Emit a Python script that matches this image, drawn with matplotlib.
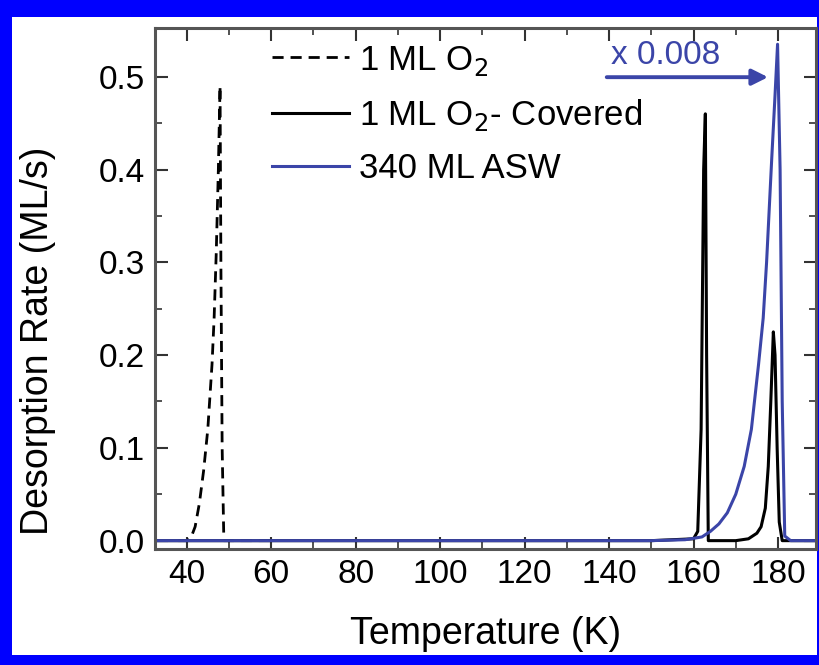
import matplotlib.pyplot as plt
from matplotlib.patches import Rectangle

# 1 ML O2 (dashed)
t_o2 = [38, 40, 41, 42, 43, 44, 45, 46, 46.5, 47, 47.5, 47.9, 48.1, 48.4, 48.8, 50, 60]
r_o2 = [0, 0, 0.003, 0.015, 0.04, 0.075, 0.12, 0.19, 0.24, 0.31, 0.40, 0.49, 0.30, 0.10, 0.0, 0, 0]

# 1 ML O2 - covered (solid black)
t_cov = [33, 150, 160, 161, 161.8, 162.4, 162.8, 163.1, 163.5, 165, 170, 173, 175, 176, 177,
         177.7, 178.3, 178.9, 179.3, 179.8, 180.3, 181, 189]
r_cov = [0, 0, 0.002, 0.01, 0.12, 0.40, 0.46, 0.20, 0.0, 0, 0.0, 0.002, 0.008, 0.015, 0.035,
         0.08, 0.15, 0.225, 0.20, 0.10, 0.02, 0, 0]

# 340 ML ASW, scaled x 0.008 (blue)
t_asw = [33, 150, 158, 162, 164, 166, 168, 170, 172, 173.7, 175.4, 176.5, 177.3, 178.5,
         179.3, 179.9, 180.5, 181.0, 181.6, 183, 189]
r_asw = [0, 0, 0.001, 0.004, 0.01, 0.018, 0.03, 0.05, 0.08, 0.12, 0.19, 0.24, 0.30, 0.41,
         0.48, 0.535, 0.40, 0.15, 0.005, 0, 0]

blue = '#3b45a8'

fig = plt.figure(figsize=(8.2, 6.65), dpi=100, facecolor='#0000ff')
fig.add_artist(Rectangle((12/820, 10/665), 805/820, 638/665, transform=fig.transFigure,
                         facecolor='white', edgecolor='none', zorder=-10))
plt.rcParams['font.family'] = ['Liberation Sans Narrow', 'Liberation Sans', 'DejaVu Sans']

ax = fig.add_axes([155/820, 1 - 549/665, (816 - 155)/820, (549 - 28)/665])
ax.patch.set_alpha(0)
ax.plot(t_o2, r_o2, color='black', ls=(0, (4, 2.5)), lw=2, label='1 ML O$_2$')
ax.plot(t_cov, r_cov, color='black', lw=2.2, label='1 ML O$_2$- Covered')
ax.plot(t_asw, r_asw, color=blue, lw=2.2, label='340 ML ASW')

ax.set_xlim(32.5, 189)
ax.set_ylim(-0.009, 0.5525)
ax.set_xticks(range(40, 181, 20))
ax.set_xticks(range(40, 190, 10), minor=True)
ax.set_yticks([0.0, 0.1, 0.2, 0.3, 0.4, 0.5])
ax.set_yticks([0.05 * i for i in range(11)], minor=True)
ax.set_yticklabels(['0.0', '0.1', '0.2', '0.3', '0.4', '0.5'])
ax.tick_params(which='both', direction='in', top=True, right=True, labelsize=24,
               color='#333333', pad=7)
ax.tick_params(which='major', length=9, width=1.5)
ax.tick_params(which='minor', length=5, width=1.2)
for s in ax.spines.values():
    s.set_linewidth(2.2)
    s.set_color('#555555')

ax.set_xlabel('Temperature (K)', fontsize=27)
ax.set_ylabel('Desorption Rate (ML/s)', fontsize=27)
ax.xaxis.set_label_coords(0.5, -0.128)
ax.yaxis.set_label_coords(-0.15, 0.40)

ax.legend(loc='upper left', bbox_to_anchor=(0.13, 1.03), frameon=False, fontsize=25,
          handlelength=2.2, handletextpad=0.3, labelspacing=0.55)

ax.annotate('', xy=(178.3, 0.4995), xytext=(138.8, 0.4995),
            arrowprops=dict(arrowstyle='-|>', color=blue, lw=2.8, mutation_scale=24))
ax.text(140.5, 0.506, 'x 0.008', color=blue, fontsize=24, ha='left', va='bottom')

fig.savefig('out.png', dpi=100, facecolor=fig.get_facecolor())
